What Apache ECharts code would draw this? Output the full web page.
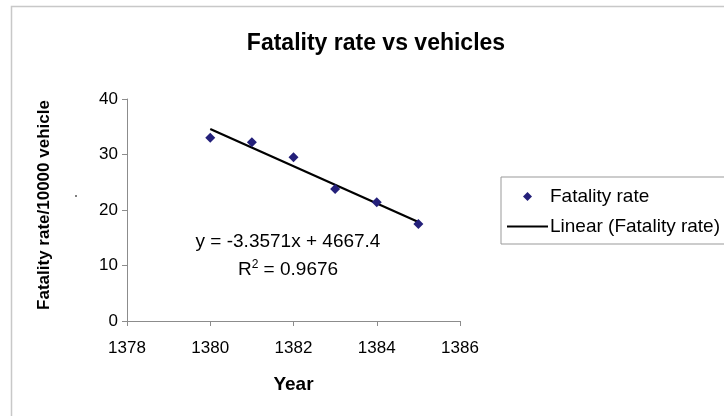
<!DOCTYPE html>
<html>
<head>
<meta charset="utf-8">
<script src="https://cdn.jsdelivr.net/npm/echarts@6/dist/echarts.min.js"></script>
<style>
html,body{margin:0;padding:0;background:#fff;}
#chart{width:724px;height:416px;}
</style>
</head>
<body>
<div id="chart"></div>
<script>
var years = [1380, 1381, 1382, 1383, 1384, 1385];
var fatalityRates = [33.0, 32.2, 29.5, 23.8, 21.4, 17.5];
var trendSlope = -3.3571;
var trendIntercept = 4667.4;
var xTicks = [1378, 1386, 2];
var yTicks = [0, 40, 10];

var scatterData = years.map(function (y, i) { return [y, fatalityRates[i]]; });
var trendX = [years[0], years[years.length - 1]];
var trendData = trendX.map(function (x) { return [x, trendSlope * x + trendIntercept]; });

var font = 'Liberation Sans, Arial, sans-serif';
var chart = echarts.init(document.getElementById('chart'));
chart.setOption({
  backgroundColor: '#fff',
  animation: false,
  title: {
    text: 'Fatality rate vs vehicles',
    left: 371, top: 27, textAlign: 'center',
    textStyle: { fontFamily: font, fontSize: 23, fontWeight: 'bold', color: '#000' }
  },
  grid: { left: 127, right: 264, top: 99, bottom: 95, containLabel: false },
  xAxis: {
    type: 'value', min: xTicks[0], max: xTicks[1], interval: xTicks[2],
    name: 'Year', nameLocation: 'middle', nameGap: 54,
    nameTextStyle: { fontFamily: font, fontSize: 19, fontWeight: 'bold', color: '#000' },
    axisLine: { show: true, lineStyle: { color: '#8c8c8c', width: 1 } },
    axisTick: { show: true, length: 5, lineStyle: { color: '#8c8c8c' } },
    axisLabel: { fontFamily: font, fontSize: 17, color: '#000', margin: 19, formatter: function (v) { return String(v); } },
    splitLine: { show: false }
  },
  yAxis: {
    type: 'value', min: yTicks[0], max: yTicks[1], interval: yTicks[2],
    name: 'Fatality rate/10000 vehicle', nameLocation: 'middle', nameGap: 74,
    nameTextStyle: { fontFamily: font, fontSize: 17, fontWeight: 'bold', color: '#000', padding: [0, 0, 0, 10] },
    axisLine: { show: true, lineStyle: { color: '#8c8c8c', width: 1 } },
    axisTick: { show: true, length: 5, lineStyle: { color: '#8c8c8c' } },
    axisLabel: { fontFamily: font, fontSize: 17, color: '#000', margin: 9 },
    splitLine: { show: false }
  },
  legend: {
    orient: 'vertical', left: 501, top: 177,
    borderColor: '#999', borderWidth: 1, backgroundColor: '#fff',
    padding: [10, 6, 8, 6], itemGap: 11, itemWidth: 41, itemHeight: 9,
    symbolKeepAspect: true,
    textStyle: { fontFamily: font, fontSize: 19, color: '#000', padding: [0, 0, 0, -3] },
    data: [
      { name: 'Fatality rate', icon: 'path://M5,0 L10,5 L5,10 L0,5 Z' },
      { name: 'Linear (Fatality rate)', icon: 'path://M0,0 L41,0 L41,2 L0,2 Z' }
    ]
  },
  series: [
    {
      name: 'Fatality rate', type: 'scatter', data: scatterData,
      symbol: 'diamond', symbolSize: 10,
      itemStyle: { color: '#24207a', opacity: 1 }, z: 3
    },
    {
      name: 'Linear (Fatality rate)', type: 'line', data: trendData,
      symbol: 'none', lineStyle: { color: '#000', width: 2.2 }, itemStyle: { color: '#000' }, z: 2
    }
  ],
  graphic: [
    { type: 'rect', shape: { x: 11.5, y: 6.5, width: 740, height: 440 }, style: { fill: 'none', stroke: '#c8c8c8', lineWidth: 1.5 }, silent: true },
    { type: 'text', x: 288, y: 242, style: { text: 'y = -3.3571x + 4667.4', font: '19px Liberation Sans, Arial, sans-serif', fill: '#000', align: 'center', verticalAlign: 'middle', textAlign: 'center', textVerticalAlign: 'middle' } },
    { type: 'text', x: 288, y: 270, style: {
        text: '{n|R}{s|2}{n| = 0.9676}', align: 'center', verticalAlign: 'middle', textAlign: 'center', textVerticalAlign: 'middle',
        rich: { n: { fontFamily: font, fontSize: 19, color: '#000' }, s: { fontFamily: font, fontSize: 12, color: '#000', padding: [0, 0, 10, 0] } }
      } },
    { type: 'circle', shape: { cx: 76, cy: 196, r: 1 }, style: { fill: '#555' }, silent: true }
  ]
});
</script>
</body>
</html>
